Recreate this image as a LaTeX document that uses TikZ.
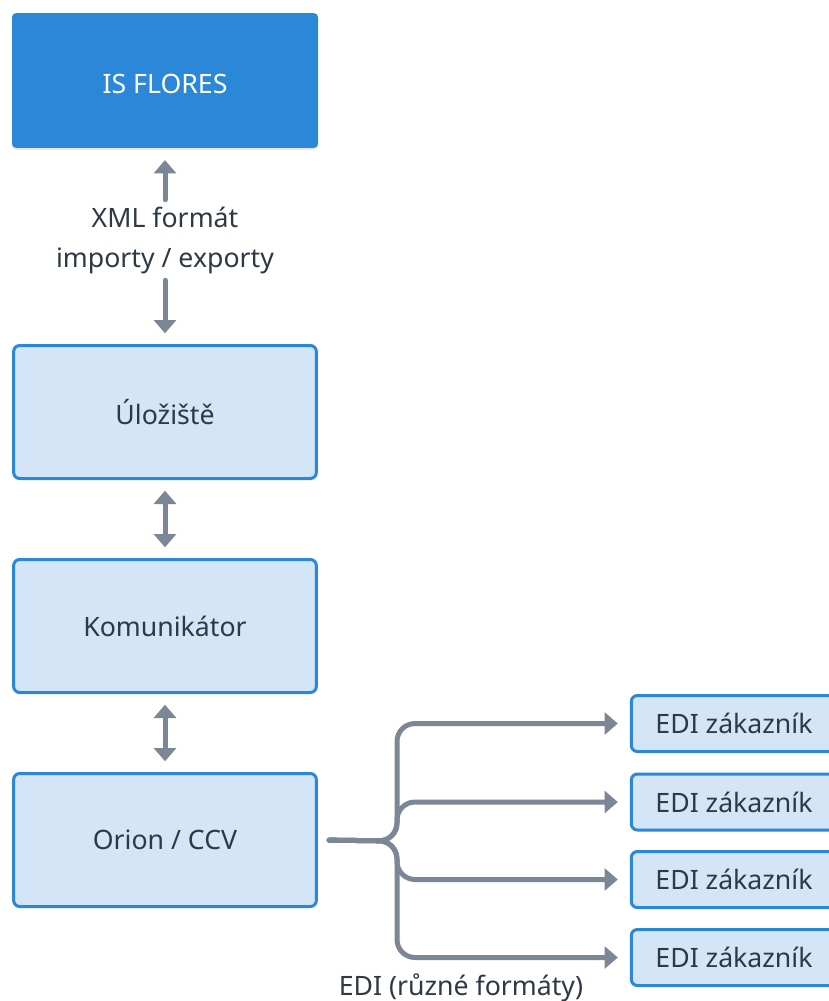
\documentclass[tikz,border=0pt]{standalone}
\usepackage{fontspec}
\setmainfont{Noto Sans}
\usetikzlibrary{arrows.meta,shadows}
\definecolor{flblue}{RGB}{43,136,216}
\definecolor{fllight}{RGB}{211,229,246}
\definecolor{flgray}{RGB}{123,135,148}
\definecolor{fltext}{RGB}{45,58,69}

\begin{document}
\begin{tikzpicture}[x=0.75pt,y=-0.75pt,
  every node/.style={font=\fontsize{20}{30}\selectfont, text=fltext},
  topbox/.style={fill=flblue, rounded corners=3pt, text=white, minimum width=229.5pt, minimum height=101pt,
    drop shadow={shadow xshift=0pt, shadow yshift=-1.5pt, opacity=0.18}},
  box/.style={draw=flblue, line width=2.25pt, fill=fllight, rounded corners=4.5pt, minimum width=227pt, minimum height=99.75pt},
  edibox/.style={draw=flblue, line width=2.25pt, fill=fllight, rounded corners=4.5pt, minimum width=154pt, minimum height=42pt},
  conn/.style={draw=flgray, line width=3.75pt, line cap=round, -{Triangle[width=16.5pt,length=10pt]}},
  dconn/.style={conn, {Triangle[width=16.5pt,length=10pt]}-{Triangle[width=16.5pt,length=10pt]}, line cap=butt}]
\useasboundingbox (0,0) rectangle (829,1001);
\clip (0,0) rectangle (829,1001);
\fill[white] (0,0) rectangle (829,1001);

\node[topbox] (isflores) at (165,80.5) {\raisebox{-2.6pt}[\height][0pt]{IS FLORES}};
\node[align=center, minimum height=60pt, inner sep=0pt] (xml) at (165,240) {XML formát\\importy / exporty};
\node[box] (uloziste) at (165,412) {Úložiště};
\node[box] (komunikator) at (165,626) {Komunikátor};
\node[box] (orion) at (165,840) {Orion / CCV};
\foreach \y [count=\i] in {723.5,802,879.5,957.5}
  \node[edibox] (edi\i) at (734,\y) {EDI zákazník};
\node[anchor=base] (edilbl) at (461,995) {EDI (různé formáty)};

\draw[conn, shorten >=9pt] (xml.north) -- (isflores.south);
\draw[conn, shorten >=8pt] (xml.south) -- (uloziste.north);
\draw[dconn, shorten <=8pt, shorten >=8pt] (uloziste.south) -- (komunikator.north);
\draw[dconn, shorten <=8pt, shorten >=8pt] (komunikator.south) -- (orion.north);

\coordinate (split) at (397,841);
\foreach \i in {1,...,4}
  \draw[conn, rounded corners=13.5pt, shorten <=8.5pt, shorten >=9pt] (orion.east) -- (split) |- (edi\i.west);
\end{tikzpicture}
\end{document}
